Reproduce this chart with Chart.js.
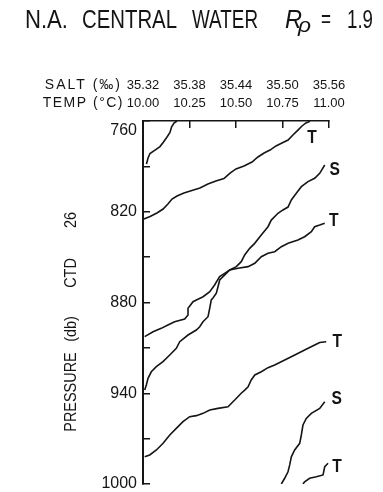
<!DOCTYPE html>
<html>
<head>
<meta charset="utf-8">
<script src="https://cdn.jsdelivr.net/npm/chart.js@4.4.1/dist/chart.umd.min.js"></script>
<style>
  html, body { margin: 0; padding: 0; background: #fff; }
</style>
</head>
<body>
<canvas id="ctdChart" width="383" height="492"></canvas>
<script>
// ---- axes ----
const pressureTicks = [760, 790, 820, 850, 880, 910, 940, 970, 1000];
const pressureLabels = [760, 820, 880, 940, 1000];
const tempTicks = [10.00, 10.25, 10.50, 10.75, 11.00];
const saltTicks = [35.32, 35.38, 35.44, 35.50, 35.56];

// ---- CTD 26 traces, [pressure (db), value as plotted] ----
// the plotted values wrap round the axis, so each trace comes in pieces
const saltSeg1 = [[788.4, 35.3245], [784.5, 35.3265], [781.5, 35.3290], [779.2, 35.3355], [776.9, 35.3419],
  [773.9, 35.3465], [770.6, 35.3510], [767.6, 35.3548], [764.0, 35.3568], [761.3, 35.3600], [760.0, 35.3639]];

const tempSeg2 = [[824.8, 10.005], [823.1, 10.038], [820.8, 10.075], [818.2, 10.108], [814.9, 10.134],
  [811.6, 10.156], [809.6, 10.183], [807.6, 10.220], [806.0, 10.263], [804.3, 10.306], [801.7, 10.349],
  [799.7, 10.392], [798.0, 10.435], [794.4, 10.468], [791.7, 10.500], [789.8, 10.543], [787.1, 10.586],
  [783.8, 10.618], [781.2, 10.651], [779.2, 10.683], [776.5, 10.715], [774.5, 10.747], [772.6, 10.780],
  [769.3, 10.806], [766.0, 10.833], [763.3, 10.855], [761.3, 10.876], [760.2, 10.898]];

const saltSeg3 = [[789.1, 35.5545], [794.6, 35.5480], [797.9, 35.5415], [800.1, 35.5329], [803.4, 35.5243],
  [807.8, 35.5178], [812.2, 35.5114], [816.9, 35.5071], [818.8, 35.5006], [821.0, 35.4942], [825.5, 35.4855],
  [829.9, 35.4813], [835.4, 35.4726], [840.9, 35.4641], [844.2, 35.4577], [848.6, 35.4512], [853.0, 35.4468],
  [856.3, 35.4404], [858.5, 35.4319], [860.7, 35.4275], [862.9, 35.4232], [865.1, 35.4190], [869.6, 35.4168],
  [873.9, 35.4146], [877.0, 35.4103], [878.3, 35.4081], [883.8, 35.4061], [889.4, 35.4039], [892.7, 35.3974],
  [896.0, 35.3932], [898.2, 35.3888], [901.5, 35.3781], [905.9, 35.3674], [910.3, 35.3630], [914.7, 35.3545],
  [919.1, 35.3458], [922.4, 35.3372], [925.8, 35.3307], [930.1, 35.3265], [934.5, 35.3243], [937.9, 35.3222]];

const tempSeg4 = [[827.6, 10.977], [828.8, 10.950], [829.9, 10.923], [833.2, 10.905], [836.5, 10.869],
  [838.7, 10.833], [840.9, 10.780], [843.1, 10.744], [846.4, 10.708], [847.5, 10.672], [849.7, 10.636],
  [854.1, 10.601], [856.3, 10.565], [857.4, 10.511], [858.5, 10.466], [860.7, 10.439], [862.9, 10.412],
  [868.4, 10.385], [872.9, 10.359], [876.2, 10.323], [878.3, 10.287], [879.5, 10.269], [883.8, 10.242],
  [888.3, 10.242], [890.9, 10.224], [892.7, 10.170], [894.9, 10.134], [897.1, 10.098], [899.3, 10.054],
  [902.6, 10.009]];

const tempSeg5 = [[905.9, 10.985], [906.4, 10.950], [908.1, 10.923], [911.4, 10.869], [914.7, 10.816],
  [918.0, 10.762], [921.3, 10.708], [923.1, 10.672], [925.8, 10.636], [927.9, 10.601], [931.2, 10.582],
  [935.7, 10.565], [937.9, 10.547], [940.0, 10.528], [944.5, 10.493], [948.9, 10.457], [950.0, 10.403],
  [951.1, 10.359], [953.3, 10.323], [954.8, 10.287], [955.5, 10.251], [958.8, 10.215], [963.2, 10.179],
  [967.6, 10.144], [973.1, 10.108], [977.5, 10.072], [980.8, 10.036], [982.0, 10.009]];

const saltSeg6 = [[945.6, 35.5545], [950.0, 35.5480], [953.3, 35.5372], [956.6, 35.5307], [961.0, 35.5264],
  [967.6, 35.5243], [973.1, 35.5222], [977.5, 35.5157], [982.0, 35.5114], [987.4, 35.5093], [991.9, 35.5071],
  [996.2, 35.5028], [1000.0, 35.4985]];

const tempSeg7 = [[986.3, 10.995], [988.6, 10.977], [994.0, 10.968], [995.2, 10.932], [996.2, 10.896],
  [998.5, 10.869], [1000.0, 10.860]];

const INK = "#151515";
const SANS = "'Liberation Sans', Arial, sans-serif";

function trace(seg, axis, tag, dx, dy) {
  return {
    data: seg.map(([p, v]) => ({ x: v, y: p })),
    xAxisID: axis,
    yAxisID: "y",
    borderColor: INK,
    borderWidth: 1.6,
    pointRadius: 0,
    tension: 0,
    fill: false,
    tag, dx, dy
  };
}

// draw text squeezed horizontally (the original lettering is condensed)
function squeeze(ctx, text, x, y, sx) {
  ctx.save();
  ctx.translate(x, y);
  ctx.scale(sx, 1);
  ctx.fillText(text, 0, 0);
  ctx.restore();
}
function fitText(ctx, text, x, y, w) {
  squeeze(ctx, text, x, y, w / ctx.measureText(text).width);
}

const annotate = {
  id: "annotate",
  afterDraw(chart) {
    const { ctx } = chart;
    ctx.save();
    ctx.fillStyle = INK;

    // title
    ctx.textBaseline = "alphabetic";
    ctx.textAlign = "left";
    ctx.font = "25px " + SANS;
    fitText(ctx, "N.A.", 25, 28, 43);
    fitText(ctx, "CENTRAL", 82, 28, 95);
    fitText(ctx, "WATER", 192, 28, 66);
    ctx.font = "italic 25px " + SANS;
    fitText(ctx, "R", 285, 28, 17);
    ctx.font = "italic 20px " + SANS;
    fitText(ctx, "ρ", 298, 32, 13);
    ctx.font = "25px " + SANS;
    fitText(ctx, "=", 321, 27, 10);
    fitText(ctx, "1.9", 347, 28, 26);

    // row headers for the two top axes
    ctx.font = "14px " + SANS;
    ctx.textAlign = "right";
    ctx.textBaseline = "middle";
    ctx.letterSpacing = "2px";
    ctx.fillText("SALT (‰)", 122, 85);
    ctx.letterSpacing = "1.5px";
    ctx.fillText("TEMP (°C)", 124, 103);
    ctx.letterSpacing = "0px";

    // y title, one word at a time
    ctx.font = "17px " + SANS;
    ctx.textAlign = "center";
    ctx.textBaseline = "alphabetic";
    [["PRESSURE", 392], ["(db)", 329], ["CTD", 273], ["26", 220]].forEach(([w, cy]) => {
      ctx.save();
      ctx.translate(76, cy);
      ctx.rotate(-Math.PI / 2);
      ctx.scale(0.85, 1);
      ctx.fillText(w, 0, 0);
      ctx.restore();
    });

    // T / S at the shallow end of each piece
    ctx.font = "bold 19px " + SANS;
    ctx.textAlign = "center";
    ctx.textBaseline = "middle";
    chart.data.datasets.forEach((ds, i) => {
      if (!ds.tag) return;
      const pts = chart.getDatasetMeta(i).data;
      let top = pts[0];
      pts.forEach(p => { if (p.y < top.y) top = p; });
      squeeze(ctx, ds.tag, top.x + ds.dx, top.y + ds.dy, 0.82);
    });
    ctx.restore();
  }
};

new Chart(document.getElementById("ctdChart"), {
  type: "line",
  data: {
    datasets: [
      trace(saltSeg1, "xs", "", 0, 0),
      trace(tempSeg2, "x", "T", 2, 16),
      trace(saltSeg3, "xs", "S", 10, 5),
      trace(tempSeg4, "x", "T", 9, -2),
      trace(tempSeg5, "x", "T", 11, 0),
      trace(saltSeg6, "xs", "S", 12, -3),
      trace(tempSeg7, "x", "T", 9, 3)
    ]
  },
  options: {
    responsive: false,
    animation: false,
    devicePixelRatio: 1,
    layout: { padding: { top: 60, left: 0, right: 54, bottom: 8 } },
    plugins: {
      legend: { display: false },
      tooltip: { enabled: false },
      title: { display: false }
    },
    scales: {
      xs: {
        type: "linear",
        position: "top",
        weight: 10,
        min: 35.32,
        max: 35.56,
        afterBuildTicks: s => { s.ticks = saltTicks.map(v => ({ value: v })); },
        afterFit: s => { s.height = 34; s.paddingLeft = 0; s.paddingRight = 0; },
        grid: { display: false, drawTicks: false },
        border: { display: false },
        ticks: {
          autoSkip: false,
          maxRotation: 0,
          padding: 1,
          color: INK,
          font: { family: SANS, size: 13 },
          callback: v => v.toFixed(2)
        }
      },
      x: {
        type: "linear",
        position: "top",
        weight: 0,
        min: 10,
        max: 11,
        afterBuildTicks: s => { s.ticks = tempTicks.map(v => ({ value: v })); },
        afterFit: s => { s.height = 27; s.paddingLeft = 0; s.paddingRight = 0; },
        grid: { drawOnChartArea: false, drawTicks: true, tickLength: -7, color: INK, lineWidth: 1.5 },
        border: { display: true, color: INK, width: 1.6 },
        ticks: {
          autoSkip: false,
          maxRotation: 0,
          padding: 17,
          color: INK,
          font: { family: SANS, size: 13 },
          callback: v => v.toFixed(2)
        }
      },
      y: {
        type: "linear",
        position: "left",
        reverse: true,
        min: 760,
        max: 1000,
        afterBuildTicks: s => { s.ticks = pressureTicks.map(v => ({ value: v })); },
        afterFit: s => { s.width = 143; s.paddingTop = 0; s.paddingBottom = 0; },
        grid: { drawOnChartArea: false, drawTicks: true, tickLength: -7, color: INK, lineWidth: 1.5 },
        border: { display: true, color: INK, width: 2 },
        ticks: {
          autoSkip: false,
          padding: 13,
          color: INK,
          font: { family: SANS, size: 16 },
          callback: v => {
            if (!pressureLabels.includes(v)) return "";
            return v === 760 ? ["", "760"] : String(v);
          }
        }
      }
    }
  },
  plugins: [annotate]
});
</script>
</body>
</html>
